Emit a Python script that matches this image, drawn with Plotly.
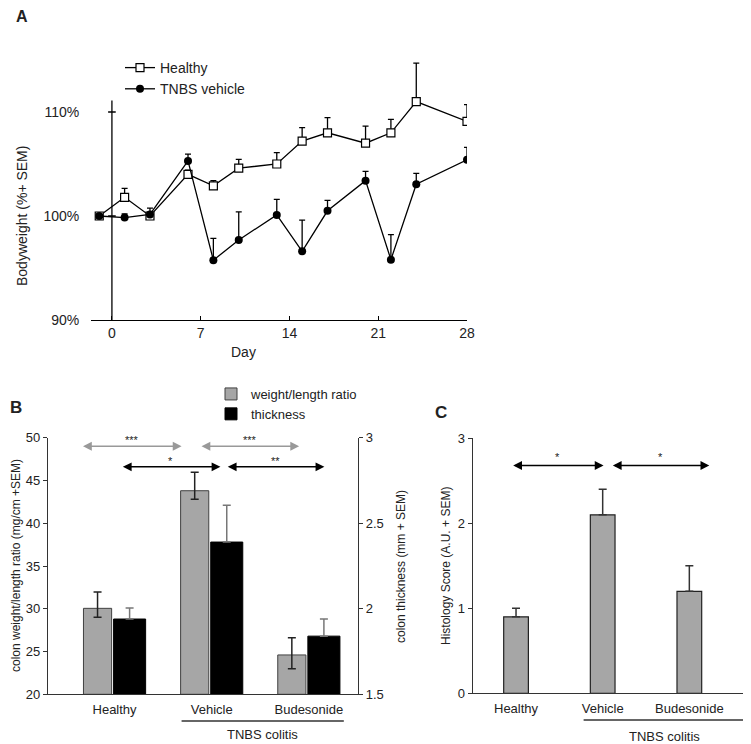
import plotly.graph_objects as go

W, H = 751, 744
PAD = 8  # page body margin around the figure

# Panel A: bodyweight over time
days = [-1, 1, 3, 6, 8, 10, 13, 15, 17, 20, 22, 24, 28]
healthy = [100.0, 101.8, 100.0, 104.0, 102.9, 104.6, 105.0, 107.2, 108.0, 107.0, 108.0, 111.0, 109.1]
healthy_sem = [0, 0.85, 0.3, 0.4, 0.5, 0.85, 1.1, 1.3, 1.45, 1.65, 1.3, 3.7, 1.6]
tnbs = [100.0, 99.85, 100.15, 105.3, 95.75, 97.7, 100.1, 96.6, 100.5, 103.4, 95.8, 103.05, 105.4]
tnbs_sem = [0, 0.35, 0.6, 0.65, 2.1, 2.7, 1.5, 3.0, 1.0, 0.9, 2.4, 1.05, 1.2]
day_ticks = [0, 7, 14, 21, 28]
bw_ticks = [90, 100, 110]
bw_labels = ["90%", "100%", "110%"]

# Panel B: colon weight/length ratio and thickness
groups = ["Healthy", "Vehicle", "Budesonide"]
ratio = [30.05, 43.8, 24.6]
ratio_up = [1.9, 2.15, 2.0]
ratio_down = [1.05, 1.0, 1.6]
thick = [1.94, 2.39, 1.84]
thick_sem = [0.065, 0.215, 0.1]
# significance arrows: (from, to, level, label, colour)
sig_b = [(-0.34, 0.69, 49.0, "***", "#999999"),
         (0.88, 1.90, 49.0, "***", "#999999"),
         (0.07, 1.09, 46.6, "*", "#000000"),
         (1.15, 2.16, 46.6, "**", "#000000")]

# Panel C: histology score
histo = [0.9, 2.1, 1.2]
histo_sem = [0.1, 0.3, 0.3]
sig_c = [(-0.05, 1.01, 2.68, "*"), (1.10, 2.23, 2.68, "*")]


def px(x):
    return (x - PAD) / W


def py(y):
    return 1 - (y - PAD) / H


FONT = "Arial, Liberation Sans, sans-serif"
fig = go.Figure()

# ---- panel A
fig.add_trace(go.Scatter(
    x=days, y=healthy, name="Healthy", mode="lines+markers",
    line=dict(color="black", width=1.3),
    marker=dict(symbol="square", size=8, color="white", line=dict(color="black", width=1.2)),
    error_y=dict(type="data", symmetric=False, array=healthy_sem, arrayminus=[0] * len(days),
                 color="black", thickness=1.3, width=3),
    xaxis="x", yaxis="y", legend="legend"))
fig.add_trace(go.Scatter(
    x=days, y=tnbs, name="TNBS vehicle", mode="lines+markers",
    line=dict(color="black", width=1.3),
    marker=dict(symbol="circle", size=8, color="black"),
    error_y=dict(type="data", symmetric=False, array=tnbs_sem, arrayminus=[0] * len(days),
                 color="black", thickness=1.3, width=3),
    xaxis="x", yaxis="y", legend="legend"))

# ---- panel B
fig.add_trace(go.Bar(
    x=groups, y=[v - 20 for v in ratio], base=20, name="weight/length ratio",
    marker=dict(color="#A6A6A6", line=dict(color="#404040", width=1)),
    offset=-0.32, width=0.29,
    error_y=dict(type="data", symmetric=False, array=ratio_up, arrayminus=ratio_down,
                 color="#222222", thickness=1.5, width=4),
    xaxis="x2", yaxis="y2", legend="legend2"))
fig.add_trace(go.Bar(
    x=groups, y=[v - 1.5 for v in thick], base=1.5, name="thickness",
    marker=dict(color="black", line=dict(color="black", width=1)),
    offset=-0.01, width=0.33,
    error_y=dict(type="data", symmetric=False, array=thick_sem, arrayminus=[0, 0, 0],
                 color="#777777", thickness=1.5, width=4),
    xaxis="x2", yaxis="y3", legend="legend2"))

# ---- panel C
fig.add_trace(go.Bar(
    x=groups, y=histo, showlegend=False,
    marker=dict(color="#A6A6A6", line=dict(color="#222222", width=1.2)),
    width=0.285,
    error_y=dict(type="data", symmetric=False, array=histo_sem, arrayminus=[0, 0, 0],
                 color="#333333", thickness=1.5, width=4),
    xaxis="x3", yaxis="y4"))

shapes = []
annotations = []


def note(**kw):
    kw.setdefault("xanchor", "center")
    kw.setdefault("yanchor", "middle")
    kw.setdefault("showarrow", False)
    annotations.append(kw)


# panel A: y axis crossing at day 0 with cross ticks
shapes.append(dict(type="line", xref="x", yref="y", x0=0, x1=0, y0=90, y1=111.1,
                   line=dict(color="black", width=1.3)))
for t in bw_ticks[1:]:
    shapes.append(dict(type="line", xref="x", yref="y", x0=-0.3, x1=0.3, y0=t, y1=t,
                       line=dict(color="black", width=1.3)))

# significance arrows
for x0, x1, lvl, lab, col in sig_b:
    annotations.append(dict(xref="x2", yref="y2", axref="x2", ayref="y2", x=x1, y=lvl, ax=x0, ay=lvl,
                            text="", showarrow=True, arrowhead=2, startarrowhead=2, arrowside="end+start",
                            arrowsize=1.1, startarrowsize=1.1, arrowwidth=1.6, arrowcolor=col,
                            standoff=0, startstandoff=0))
    note(xref="x2", yref="y2", x=(x0 + x1) / 2, y=lvl, text=lab, yshift=6,
         font=dict(size=11, color="#222222"))
for x0, x1, lvl, lab in sig_c:
    annotations.append(dict(xref="x3", yref="y4", axref="x3", ayref="y4", x=x1, y=lvl, ax=x0, ay=lvl,
                            text="", showarrow=True, arrowhead=2, startarrowhead=2, arrowside="end+start",
                            arrowsize=1.1, startarrowsize=1.1, arrowwidth=1.6, arrowcolor="black",
                            standoff=0, startstandoff=0))
    note(xref="x3", yref="y4", x=(x0 + x1) / 2, y=lvl, text=lab, yshift=9,
         font=dict(size=11, color="#222222"))

# TNBS colitis brackets
for xr, x0, x1, yl, yt in [("x2", 0.69, 2.36, 721, 734), ("x3", 0.78, 2.64, 720, 736)]:
    shapes.append(dict(type="line", xref=xr, yref="paper", x0=x0, x1=x1, y0=py(yl), y1=py(yl),
                       line=dict(color="#333333", width=1.3)))
    note(xref=xr, yref="paper", x=(x0 + x1) / 2, y=py(yt), text="TNBS colitis", font=dict(size=13))

# panel letters and axis titles
for lab, x, y, s in [("A", 22, 17, 16), ("B", 16, 407, 17), ("C", 441, 412, 17)]:
    note(xref="paper", yref="paper", x=px(x), y=py(y), text="<b>%s</b>" % lab, font=dict(size=s))
for lab, x, y, s in [("Bodyweight (%+ SEM)", 22, 216, 14),
                     ("colon weight/length ratio (mg/cm +SEM)", 16, 566, 12),
                     ("colon thickness (mm + SEM)", 401, 566, 12),
                     ("Histology Score (A.U. + SEM)", 446, 566, 12)]:
    note(xref="paper", yref="paper", x=px(x), y=py(y), text=lab, textangle=-90, font=dict(size=s))
note(xref="paper", yref="paper", x=px(243.5), y=py(352), text="Day", font=dict(size=14))

axis_common = dict(showgrid=False, zeroline=False, automargin=False, color="#222222")

fig.update_layout(
    width=W, height=H,
    margin=dict(l=0, r=0, t=0, b=0, autoexpand=False),
    paper_bgcolor="white", plot_bgcolor="white",
    font=dict(family=FONT, size=13, color="#222222"),
    shapes=shapes, annotations=annotations,
    xaxis=dict(axis_common, domain=[px(91), px(467)], range=[-1.65, 28], anchor="y",
               showline=True, linecolor="black", linewidth=1.3,
               tickvals=[-1.65] + day_ticks, ticktext=[""] + [str(d) for d in day_ticks],
               ticks="inside", ticklen=4, tickwidth=1.3, tickcolor="black", tickfont=dict(size=14)),
    yaxis=dict(axis_common, domain=[py(320), py(49.6)], range=[90, 116], anchor="x",
               showline=False, tickvals=bw_ticks, ticktext=bw_labels,
               ticks="outside", ticklen=8, tickcolor="rgba(0,0,0,0)", tickfont=dict(size=14)),
    xaxis2=dict(axis_common, domain=[px(48), px(358)], range=[-0.685, 2.506], anchor="y2",
                type="category", showline=True, linecolor="#333333", linewidth=1.3,
                ticks="outside", ticklen=3, tickcolor="rgba(0,0,0,0)", tickfont=dict(size=13)),
    yaxis2=dict(axis_common, domain=[py(694.3), py(437.7)], range=[20, 50], anchor="x2",
                showline=True, linecolor="#333333", linewidth=1.3, dtick=5,
                ticks="outside", ticklen=4, tickcolor="#333333", tickfont=dict(size=13)),
    yaxis3=dict(axis_common, overlaying="y2", side="right", anchor="x2", range=[1.5, 3],
                tickvals=[1.5, 2, 2.5, 3], ticktext=["1.5", "2", "2.5", "3"],
                showline=True, linecolor="#333333", linewidth=1.3,
                ticks="outside", ticklen=4, tickcolor="#333333", tickfont=dict(size=13)),
    xaxis3=dict(axis_common, domain=[px(472.7), px(750)], range=[-0.5, 2.7], anchor="y4",
                type="category", showline=True, linecolor="#333333", linewidth=1.3,
                ticks="outside", ticklen=3, tickcolor="rgba(0,0,0,0)", tickfont=dict(size=13)),
    yaxis4=dict(axis_common, domain=[py(693.3), py(438.3)], range=[0, 3], anchor="x3", dtick=1,
                showline=True, linecolor="#333333", linewidth=1.3,
                ticks="outside", ticklen=4, tickcolor="#333333", tickfont=dict(size=13)),
    legend=dict(x=px(120), y=py(52), xanchor="left", yanchor="top", bgcolor="rgba(0,0,0,0)",
                font=dict(size=14), itemwidth=30),
    legend2=dict(x=px(211), y=py(379), xanchor="left", yanchor="top", bgcolor="rgba(0,0,0,0)",
                 font=dict(size=13), itemwidth=30),
)

fig.write_html("out.html")
